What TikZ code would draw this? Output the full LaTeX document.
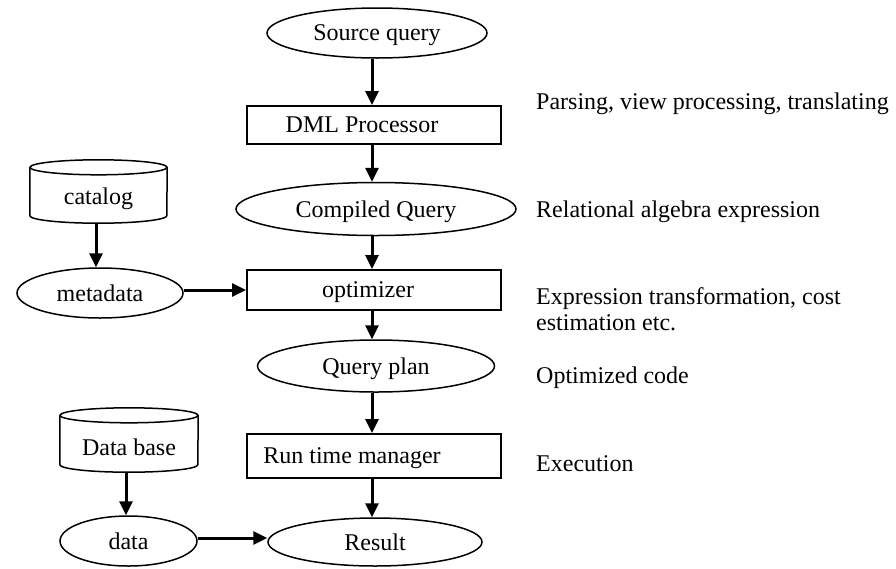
\documentclass[tikz,border=0pt]{standalone}
\usepackage{fontspec}
\setmainfont{Liberation Serif}
\usetikzlibrary{shapes.geometric,arrows.meta,calc}

\tikzset{
  base/.style={inner sep=0pt, font=\fontsize{24}{26.5}\selectfont},
  oval/.style={base, ellipse, draw, line width=1.5pt, text depth=0pt},
  procbox/.style={base, rectangle, draw, line width=2pt,
    minimum width=254pt, text depth=0pt},
  drum/.style={base, rectangle, minimum width=137pt},
  drumline/.style={line width=1.5pt},
  note/.style={base, anchor=west, align=left},
  flow/.style={line width=3pt,
    -{Triangle[length=14pt,width=13pt]}}
}

\begin{document}
\begin{tikzpicture}[x=1pt,y=-1pt]
\useasboundingbox (0,0) rectangle (896,568);

% main column
\node[oval, minimum width=220pt, minimum height=50pt] (src) at (377,33) {Source query};
\node[procbox, minimum height=38pt] (dml) at (374,125) {DML Processor\hspace*{24pt}};
\node[oval, minimum width=280pt, minimum height=53pt] (comp) at (376,209) {Compiled Query};
\node[procbox, minimum height=40pt] (opt) at (374,290) {optimizer\hspace*{12pt}};
\node[oval, minimum width=237pt, minimum height=52pt] (qp) at (376,366) {Query plan};
\node[procbox, minimum height=44pt] (rtm) at (374,456) {Run time manager\hspace*{44pt}};
\node[oval, minimum width=214pt, minimum height=48pt] (res) at (375,542) {Result};

% side sources
\node[drum, minimum height=48pt] (catalog) at (98.5,199) {catalog};
\node[oval, minimum width=166pt, minimum height=50pt] (meta) at (100,293) {metadata};
\node[drum, minimum height=49pt, minimum width=138pt] (dbase) at (129,447.5) {Data base};
\node[oval, minimum width=137pt, minimum height=50pt] (data) at (128.5,541) {data};

% cylinder outlines
\foreach \c/\rx in {catalog/68.5, dbase/69} {
  \draw[drumline] ($(\c.north)+(0,-7.5)$) ellipse [x radius=\rx, y radius=7.5];
  \draw[drumline] ($(\c.north west)+(0,-7.5)$) -- ($(\c.south west)+(0,-7.5)$)
    arc[start angle=180, end angle=0, x radius=\rx, y radius=7.5]
    -- ($(\c.north east)+(0,-7.5)$);
}

% connectors
\draw[flow] (src.south -| 372,0) -- (dml.north -| 372,0);
\draw[flow] (dml.south -| 372,0) -- (comp.north -| 372,0);
\draw[flow] (comp.south -| 372,0) -- (opt.north -| 372,0);
\draw[flow] (opt.south -| 372,0) -- (qp.north -| 372,0);
\draw[flow] (qp.south -| 372,0) -- (rtm.north -| 372,0);
\draw[flow] (rtm.south -| 372,0) -- (res.north -| 372,0);
\draw[flow] (catalog.south -| 96,0) -- (meta.north -| 96,0);
\draw[flow] (dbase.south -| 126,0) -- (data.north -| 126,0);
\draw[flow] (meta.east |- opt.west) -- (opt.west);
\draw[flow] (data.east |- 0,538) -- (res.west |- 0,538);

% stage notes
\node[note] (n1) at (536,104) {Parsing, view processing, translating};
\node[note] (n2) at (536,212) {Relational algebra expression};
\node[note] (n3) at (536,309) {Expression transformation, cost\\estimation etc.};
\node[note] (n4) at (536,378) {Optimized code};
\node[note] (n5) at (536,464) {Execution};
\end{tikzpicture}
\end{document}
